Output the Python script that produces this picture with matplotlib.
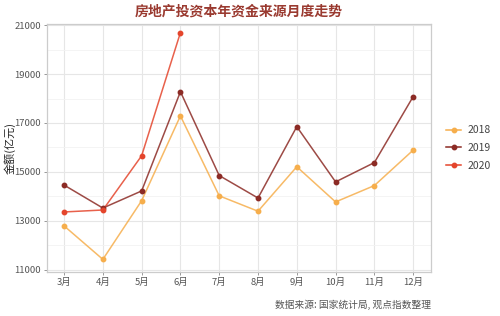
import matplotlib
matplotlib.use("Agg")
import matplotlib.pyplot as plt
from matplotlib.ticker import MultipleLocator
from matplotlib.lines import Line2D

plt.rcParams['font.family'] = ['Noto Sans CJK SC', 'DejaVu Sans']

months = ['3月', '4月', '5月', '6月', '7月', '8月', '9月', '10月', '11月', '12月']
v2018 = [12790, 11420, 13820, 17290, 14020, 13390, 15210, 13770, 14440, 15890]
v2019 = [14460, 13520, 14220, 18280, 14850, 13930, 16850, 14590, 15380, 18080]
v2020 = [13360, 13440, 15660, 20700]
series = [('2018', v2018, '#f6ae4c'), ('2019', v2019, '#8c2b25'), ('2020', v2020, '#e4452c')]

fig = plt.figure(figsize=(5.0, 3.16), dpi=100)
ax = fig.add_axes([0.094, 0.139, 0.768, 0.785])

x = list(range(len(months)))
for name, vals, col in series:
    xs = x[:len(vals)]
    ax.plot(xs, vals, color=col, lw=1.1, alpha=0.85, zorder=3)
    ax.plot(xs, vals, linestyle='none', marker='o', ms=3.2, color=col, zorder=4)

handles = [Line2D([0], [0], color=col, lw=1.1, marker='o', ms=3.2) for _, _, col in series]
leg = ax.legend(handles, [s[0] for s in series], loc='center left', bbox_to_anchor=(1.04, 0.5),
                frameon=False, fontsize=7.5, handlelength=1.4, handletextpad=0.6,
                labelspacing=0.75, borderpad=0, borderaxespad=0)
for t in leg.get_texts():
    t.set_color('#444444')

ax.set_xlim(-0.44, 9.46)
ax.set_ylim(10900, 21050)
ax.set_xticks(x)
ax.set_xticklabels(months)
ax.yaxis.set_minor_locator(MultipleLocator(1000))
ax.set_yticks([11000, 13000, 15000, 17000, 19000, 21000])
ax.tick_params(axis='both', labelsize=6.8, colors='#888888', length=2.5, width=0.6, pad=2)
ax.tick_params(axis='y', which='minor', length=0)
for lab in ax.get_xticklabels() + ax.get_yticklabels():
    lab.set_color('#555555')

ax.grid(which='major', color='#e6e6e6', lw=0.8)
ax.grid(which='minor', axis='y', color='#f2f2f2', lw=0.6)
ax.set_axisbelow(True)
for sp in ax.spines.values():
    sp.set_color('#cccccc')
    sp.set_linewidth(0.9)

ax.set_ylabel('金额(亿元)', fontsize=8, color='#222222')
ax.yaxis.set_label_coords(-0.081, 0.5)
fig.text(0.478, 0.962, '房地产投资本年资金来源月度走势', ha='center', va='center',
         fontsize=10, fontweight='bold', color='#9a3a30')
fig.text(0.862, 0.035, '数据来源: 国家统计局, 观点指数整理', ha='right', va='center',
         fontsize=7, color='#555555')

fig.savefig('out.png', dpi=100)
